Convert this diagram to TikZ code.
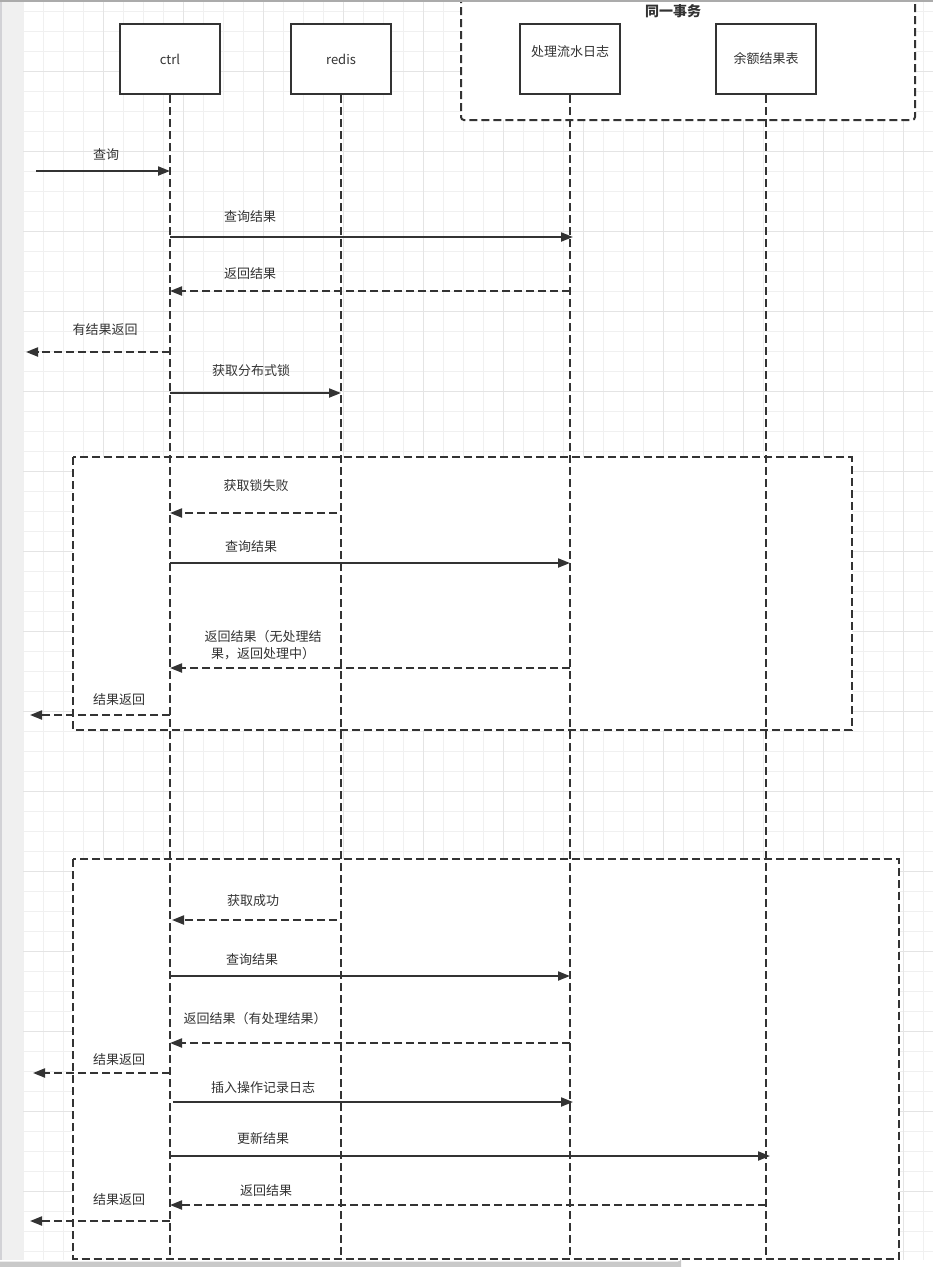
\documentclass[tikz,border=0pt]{standalone}
\usepackage{fontspec}
\setmainfont{Noto Sans CJK SC}
\usetikzlibrary{arrows.meta}
\definecolor{ink}{HTML}{333333}
\definecolor{gminor}{HTML}{F0F0F0}
\definecolor{gmajor}{HTML}{E4E4E4}
\definecolor{sidebar}{HTML}{F0F0F0}
\definecolor{sideedge}{HTML}{D2D2D6}
\definecolor{topedge}{HTML}{ABABAB}
\definecolor{scroll}{HTML}{C9C9C9}
\begin{document}
\begin{tikzpicture}[x=1pt,y=-1pt,
  head/.style={draw=ink, line width=2pt, fill=white, minimum width=100pt, minimum height=70pt, inner sep=0pt, font=\fontsize{13}{16}\selectfont, text=ink},
  life/.style={draw=ink, line width=2pt, dash pattern=on 8pt off 4pt},
  sync/.style={draw=ink, line width=2pt, -{Triangle[length=12pt,width=9pt]}},
  reply/.style={sync, dash pattern=on 8pt off 4pt},
  lbl/.style={font=\fontsize{13}{17}\selectfont, text=ink, inner sep=0pt, align=center},
  frame/.style={draw=ink, line width=2pt, dash pattern=on 8pt off 4pt, fill=white},
  gridminor/.style={draw=gminor, line width=1pt},
  gridmajor/.style={draw=gmajor, line width=1.5pt}]
\useasboundingbox (0,0) rectangle (933,1267);
\clip (0,0) rectangle (933,1267);
% background grid
\fill[white] (0,0) rectangle (933,1267);
\foreach \i in {0,...,45} { \draw[gridminor] ({23.3+20*\i},0) -- ({23.3+20*\i},1267); }
\foreach \i in {0,...,63} { \draw[gridminor] (23,{11.7+20*\i}) -- (933,{11.7+20*\i}); }
\foreach \i in {0,...,10} { \draw[gridmajor] ({103.3+80*\i},0) -- ({103.3+80*\i},1267); }
\foreach \i in {0,...,15} { \draw[gridmajor] (23,{71.7+80*\i}) -- (933,{71.7+80*\i}); }
% window chrome
\fill[sidebar] (0,0) rectangle (22.5,1267);
\fill[sideedge] (0,0) rectangle (2,1267);
\fill[white] (0,1259.5) rectangle (933,1267);
\fill[scroll] (0,1261.5) -- (678,1261.5) arc[start angle=90,end angle=0,radius=3] -- (681,1267) -- (0,1267) -- cycle;
% frames
\draw[frame, rounded corners=3pt] (461,-20) rectangle (915,120);
\node[lbl, font=\fontsize{14}{17}\selectfont\bfseries] (tx) at (673,11) {同一事务};
\draw[frame] (73,457) rectangle (851.5,730);
\draw[frame] (73,859) rectangle (899,1258.5);
% lifeline heads
\node[head] (ctrl) at (170,59) {ctrl};
\node[head] (redis) at (341,59) {redis};
\node[head, label={[lbl,yshift=7pt]center:处理流水日志}] (log) at (570,59) {};
\node[head] (bal) at (766,59) {余额结果表};
\coordinate (bot) at (0,1258.5);
\foreach \n in {ctrl,redis,log,bal} { \draw[life] (\n.south) -- (\n |- bot); }
% rows
\coordinate (r1) at (0,171);
\coordinate (r2) at (0,237);
\coordinate (r3) at (0,291);
\coordinate (r4) at (0,352);
\coordinate (r5) at (0,393);
\coordinate (r6) at (0,513);
\coordinate (r7) at (0,563);
\coordinate (r8) at (0,668);
\coordinate (r9) at (0,715);
\coordinate (r10) at (0,920);
\coordinate (r11) at (0,976);
\coordinate (r12) at (0,1043);
\coordinate (r13) at (0,1073);
\coordinate (r14) at (0,1102);
\coordinate (r15) at (0,1156);
\coordinate (r16) at (0,1205);
\coordinate (r17) at (0,1221);
% free ends
\coordinate (in1) at (36,171);
\coordinate (out4) at (26,352);
\coordinate (out9) at (30,715);
\coordinate (out13) at (33,1073);
\coordinate (out17) at (30,1221);
% messages
\draw[sync] (in1) -- (ctrl |- r1);
\draw[sync] (ctrl |- r2) -- ([xshift=3pt]log |- r2);
\draw[reply] (log |- r3) -- (ctrl |- r3);
\draw[reply] (ctrl |- r4) -- (out4);
\draw[sync] (ctrl |- r5) -- (redis |- r5);
\draw[reply] ([xshift=-4pt]redis |- r6) -- (ctrl |- r6);
\draw[sync] (ctrl |- r7) -- (log |- r7);
\draw[reply] (log |- r8) -- (ctrl |- r8);
\draw[reply] (ctrl |- r9) -- (out9);
\draw[reply] ([xshift=-4pt]redis |- r10) -- ([xshift=2pt]ctrl |- r10);
\draw[sync] (ctrl |- r11) -- (log |- r11);
\draw[reply] (log |- r12) -- (ctrl |- r12);
\draw[reply] (ctrl |- r13) -- (out13);
\draw[sync] ([xshift=3pt]ctrl |- r14) -- ([xshift=3pt]log |- r14);
\draw[sync] (ctrl |- r15) -- ([xshift=4pt]bal |- r15);
\draw[reply] (bal |- r16) -- (ctrl |- r16);
\draw[reply] (ctrl |- r17) -- (out17);
% labels
\node[lbl] (l1) at (106,155) {查询};
\node[lbl] (l2) at (250,217) {查询结果};
\node[lbl] (l3) at (250,274) {返回结果};
\node[lbl] (l4) at (105,330) {有结果返回};
\node[lbl] (l5) at (251,371) {获取分布式锁};
\node[lbl] (l6) at (256,486) {获取锁失败};
\node[lbl] (l7) at (251,547) {查询结果};
\node[lbl] (l8) at (263,645.5) {返回结果（无处理结\\果，返回处理中）};
\node[lbl] (l9) at (119,700) {结果返回};
\node[lbl] (l10) at (253,901) {获取成功};
\node[lbl] (l11) at (252,960) {查询结果};
\node[lbl] (l12) at (255,1019) {返回结果（有处理结果）};
\node[lbl] (l13) at (119,1060) {结果返回};
\node[lbl] (l14) at (263,1088) {插入操作记录日志};
\node[lbl] (l15) at (263,1139) {更新结果};
\node[lbl] (l16) at (266,1191) {返回结果};
\node[lbl] (l17) at (119,1200) {结果返回};
% top edge
\fill[topedge] (0,0) rectangle (933,2);
\end{tikzpicture}
\end{document}
